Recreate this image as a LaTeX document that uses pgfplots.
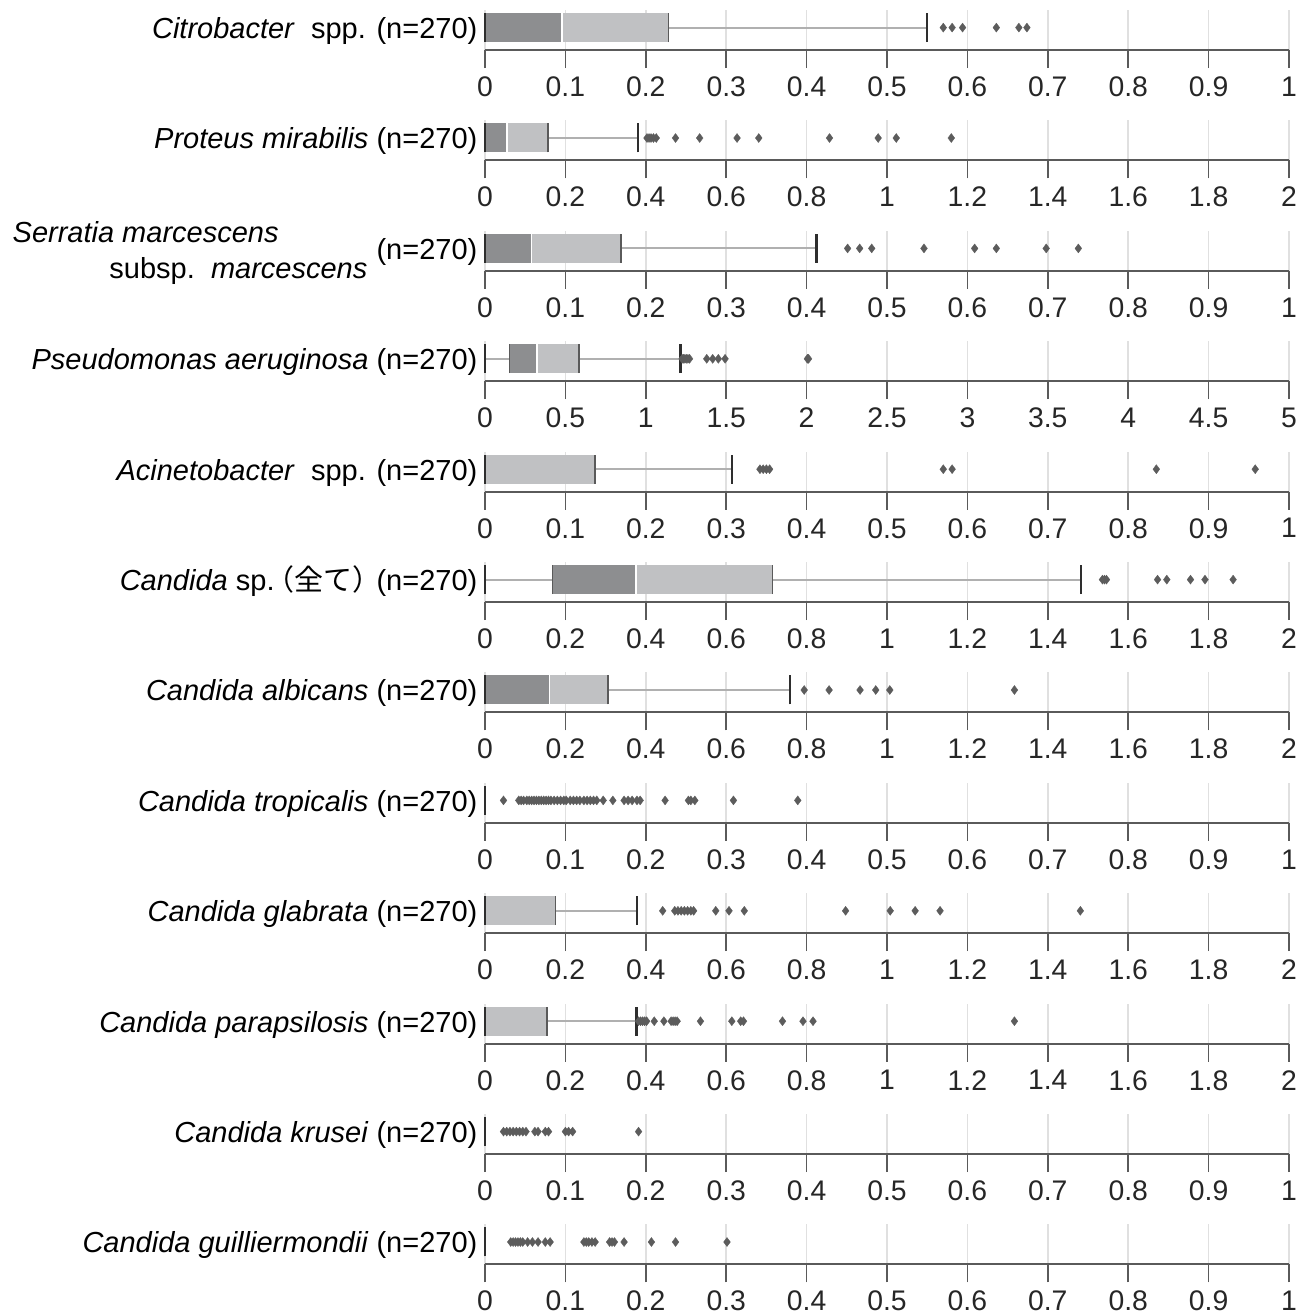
\documentclass[border=0pt]{standalone}
\usepackage{fontspec}
\setmainfont{Liberation Sans}
\newfontfamily\cjk{Noto Sans CJK JP}
\usepackage{pgfplots}
\pgfplotsset{compat=1.18}
\definecolor{bdark}{HTML}{8D8E90}
\definecolor{blight}{HTML}{C0C1C3}
\definecolor{axgray}{HTML}{5A5A5A}
\definecolor{gridc}{HTML}{E0E0E0}
\definecolor{whisk}{HTML}{B0B0B0}
\definecolor{capc}{HTML}{2E2E2E}
\definecolor{outc}{HTML}{5C5C5C}
\newcommand\lab{\fontsize{8.7pt}{10.4pt}\selectfont}
\newcommand\tlab{\fontsize{8.5pt}{10pt}\selectfont}
\newcommand\whisker[2]{\addplot[draw=whisk, line width=0.55pt] coordinates {(#1,0.56) (#2,0.56)};}
\newcommand\bpart[3]{\addplot[fill=#1, draw=none] coordinates {(#2,0.2) (#3,0.2) (#3,0.925) (#2,0.925)};}
\newcommand\bedge[2]{\addplot[draw=#2, line width=0.45pt] coordinates {(#1,0.2) (#1,0.925)};}
\newcommand\bcap[1]{\addplot[draw=capc, line width=0.75pt] coordinates {(#1,0.2) (#1,0.925)};}
\tikzset{lbl/.style={font=\lab, inner sep=0pt}}
\pgfplotsset{
  panel/.style={
    scale only axis, width=241.2pt, height=12pt,
    xmin=0, ymin=0, ymax=1, clip=false,
    anchor=south west,
    axis x line*=bottom, axis y line=none,
    axis line style={draw=axgray, line width=0.6pt},
    tick align=outside, major tick length=5.4pt,
    x tick style={draw=axgray, line width=0.5pt},
    xmajorgrids, major grid style={draw=gridc, line width=0.45pt},
    xticklabel style={font=\tlab, text=black!85, yshift=0.9pt},
    /pgf/number format/assume math mode=true,
    ytick=\empty,
  },
  pa/.style={xmax=1, xtick={0,0.1,0.2,0.3,0.4,0.5,0.6,0.7,0.8,0.9,1}},
  pb/.style={xmax=2, xtick={0,0.2,0.4,0.6,0.8,1,1.2,1.4,1.6,1.8,2}},
  pc/.style={xmax=5, xtick={0,0.5,1,1.5,2,2.5,3,3.5,4,4.5,5}},
  outl/.style={only marks, mark=diamond*, mark size=1.35pt, mark options={fill=outc, draw=outc, line width=0.1pt}},
}
\begin{document}
\begin{tikzpicture}
\useasboundingbox (0pt,0pt) rectangle (390pt,-394.2pt);
% 1 Citrobacter
\begin{axis}[panel, pa, at={(145.5pt,-15pt)}]
\whisker{0.228}{0.550}
\bpart{bdark}{0}{0.0956}
\bpart{blight}{0.0956}{0.228}
\bedge{0.0956}{white}\bedge{0.228}{axgray}
\bcap{0}\bcap{0.550}
\addplot[outl] coordinates {(0.570,0.56) (0.581,0.56) (0.594,0.56) (0.636,0.56) (0.664,0.56) (0.674,0.56)};
\end{axis}
\node[anchor=base east, lbl] at (143.4pt,-11.55pt) {\textit{Citrobacter}\ \ spp. (n=270)};
% 2 Proteus
\begin{axis}[panel, pb, at={(145.5pt,-48.12pt)}]
\whisker{0.157}{0.380}
\bpart{bdark}{0}{0.055}
\bpart{blight}{0.055}{0.157}
\bedge{0.055}{white}\bedge{0.157}{axgray}
\bcap{0}\bcap{0.380}
\addplot[outl] coordinates {(0.403,0.56) (0.408,0.56) (0.413,0.56) (0.419,0.56) (0.426,0.56) (0.474,0.56) (0.534,0.56) (0.627,0.56) (0.681,0.56) (0.857,0.56) (0.978,0.56) (1.023,0.56) (1.160,0.56)};
\end{axis}
\node[anchor=base east, lbl] at (143.4pt,-44.67pt) {\textit{Proteus mirabilis} (n=270)};
% 3 Serratia
\begin{axis}[panel, pa, at={(145.5pt,-81.24pt)}]
\whisker{0.169}{0.412}
\bpart{bdark}{0}{0.0576}
\bpart{blight}{0.0576}{0.169}
\bedge{0.0576}{white}\bedge{0.169}{axgray}
\bcap{0}\bcap{0.412}
\addplot[outl] coordinates {(0.451,0.56) (0.466,0.56) (0.481,0.56) (0.546,0.56) (0.609,0.56) (0.636,0.56) (0.698,0.56) (0.738,0.56)};
\end{axis}
\node[anchor=base west, lbl] at (3.6pt,-72.6pt) {\textit{Serratia marcescens}};
\node[anchor=base east, lbl] at (110.4pt,-83.4pt) {subsp.\ \ \textit{marcescens}};
\node[anchor=base east, lbl] at (143.4pt,-77.79pt) {(n=270)};
% 4 Pseudomonas
\begin{axis}[panel, pc, at={(145.5pt,-114.36pt)}]
\whisker{0}{0.153}
\whisker{0.584}{1.217}
\bpart{bdark}{0.153}{0.323}
\bpart{blight}{0.323}{0.584}
\bedge{0.153}{axgray}\bedge{0.323}{white}\bedge{0.584}{axgray}
\bcap{0}\bcap{1.217}
\addplot[outl] coordinates {(1.226,0.56) (1.234,0.56) (1.243,0.56) (1.252,0.56) (1.262,0.56) (1.272,0.56) (1.379,0.56) (1.416,0.56) (1.451,0.56) (1.493,0.56) (2.005,0.56) (2.012,0.56)};
\end{axis}
\node[anchor=base east, lbl] at (143.4pt,-110.91pt) {\textit{Pseudomonas aeruginosa} (n=270)};
% 5 Acinetobacter
\begin{axis}[panel, pa, at={(145.5pt,-147.48pt)}]
\whisker{0.137}{0.307}
\bpart{blight}{0}{0.137}
\bedge{0.137}{axgray}
\bcap{0}\bcap{0.307}
\addplot[outl] coordinates {(0.342,0.56) (0.346,0.56) (0.350,0.56) (0.354,0.56) (0.570,0.56) (0.581,0.56) (0.835,0.56) (0.958,0.56)};
\end{axis}
\node[anchor=base east, lbl] at (143.4pt,-144.03pt) {\textit{Acinetobacter}\ \ spp. (n=270)};
% 6 Candida sp.
\begin{axis}[panel, pb, at={(145.5pt,-180.6pt)}]
\whisker{0}{0.168}
\whisker{0.715}{1.483}
\bpart{bdark}{0.168}{0.375}
\bpart{blight}{0.375}{0.715}
\bedge{0.168}{axgray}\bedge{0.375}{white}\bedge{0.715}{axgray}
\bcap{0}\bcap{1.483}
\addplot[outl] coordinates {(1.536,0.56) (1.541,0.56) (1.546,0.56) (1.673,0.56) (1.696,0.56) (1.755,0.56) (1.791,0.56) (1.861,0.56)};
\end{axis}
\node[anchor=base east, lbl] at (143.4pt,-177.15pt) {\textit{Candida} sp.\kern-2.6pt{\cjk （全て）}\kern-1.6pt(n=270)};
% 7 Candida albicans
\begin{axis}[panel, pb, at={(145.5pt,-213.72pt)}]
\whisker{0.306}{0.759}
\bpart{bdark}{0}{0.160}
\bpart{blight}{0.160}{0.306}
\bedge{0.160}{white}\bedge{0.306}{axgray}
\bcap{0}\bcap{0.759}
\addplot[outl] coordinates {(0.794,0.56) (0.856,0.56) (0.933,0.56) (0.972,0.56) (1.007,0.56) (1.317,0.56)};
\end{axis}
\node[anchor=base east, lbl] at (143.4pt,-210.27pt) {\textit{Candida albicans} (n=270)};
% 8 Candida tropicalis
\begin{axis}[panel, pa, at={(145.5pt,-246.84pt)}]
\bcap{0}
\addplot[outl] coordinates {(0.023,0.56) (0.042,0.56) (0.045,0.56) (0.048,0.56) (0.052,0.56) (0.055,0.56) (0.058,0.56) (0.061,0.56) (0.064,0.56) (0.067,0.56) (0.070,0.56) (0.073,0.56) (0.076,0.56) (0.079,0.56) (0.082,0.56) (0.086,0.56) (0.090,0.56) (0.094,0.56) (0.098,0.56) (0.101,0.56) (0.106,0.56) (0.110,0.56) (0.114,0.56) (0.118,0.56) (0.123,0.56) (0.127,0.56) (0.131,0.56) (0.135,0.56) (0.139,0.56) (0.147,0.56) (0.159,0.56) (0.173,0.56) (0.178,0.56) (0.183,0.56) (0.189,0.56) (0.193,0.56) (0.224,0.56) (0.253,0.56) (0.256,0.56) (0.261,0.56) (0.309,0.56) (0.389,0.56)};
\end{axis}
\node[anchor=base east, lbl] at (143.4pt,-243.39pt) {\textit{Candida tropicalis} (n=270)};
% 9 Candida glabrata
\begin{axis}[panel, pb, at={(145.5pt,-279.96pt)}]
\whisker{0.175}{0.378}
\bpart{blight}{0}{0.175}
\bedge{0.175}{axgray}
\bcap{0}\bcap{0.378}
\addplot[outl] coordinates {(0.442,0.56) (0.472,0.56) (0.480,0.56) (0.488,0.56) (0.496,0.56) (0.504,0.56) (0.512,0.56) (0.519,0.56) (0.574,0.56) (0.607,0.56) (0.645,0.56) (0.897,0.56) (1.008,0.56) (1.070,0.56) (1.132,0.56) (1.481,0.56)};
\end{axis}
\node[anchor=base east, lbl] at (143.4pt,-276.51pt) {\textit{Candida glabrata} (n=270)};
% 10 Candida parapsilosis
\begin{axis}[panel, pb, at={(145.5pt,-313.08pt)}]
\whisker{0.154}{0.377}
\bpart{blight}{0}{0.154}
\bedge{0.154}{axgray}
\bcap{0}\bcap{0.377}
\addplot[outl] coordinates {(0.382,0.56) (0.387,0.56) (0.392,0.56) (0.397,0.56) (0.402,0.56) (0.421,0.56) (0.445,0.56) (0.463,0.56) (0.468,0.56) (0.473,0.56) (0.478,0.56) (0.536,0.56) (0.614,0.56) (0.636,0.56) (0.643,0.56) (0.740,0.56) (0.791,0.56) (0.816,0.56) (1.317,0.56)};
\end{axis}
\node[anchor=base east, lbl] at (143.4pt,-309.63pt) {\textit{Candida parapsilosis} (n=270)};
% 11 Candida krusei
\begin{axis}[panel, pa, at={(145.5pt,-346.2pt)}]
\bcap{0}
\addplot[outl] coordinates {(0.023,0.56) (0.027,0.56) (0.031,0.56) (0.035,0.56) (0.039,0.56) (0.043,0.56) (0.047,0.56) (0.051,0.56) (0.062,0.56) (0.066,0.56) (0.075,0.56) (0.079,0.56) (0.100,0.56) (0.104,0.56) (0.109,0.56) (0.191,0.56)};
\end{axis}
\node[anchor=base east, lbl] at (143.4pt,-342.75pt) {\textit{Candida krusei} (n=270)};
% 12 Candida guilliermondii
\begin{axis}[panel, pa, at={(145.5pt,-379.32pt)}]
\bcap{0}
\addplot[outl] coordinates {(0.032,0.56) (0.035,0.56) (0.038,0.56) (0.041,0.56) (0.044,0.56) (0.047,0.56) (0.053,0.56) (0.059,0.56) (0.066,0.56) (0.075,0.56) (0.081,0.56) (0.123,0.56) (0.126,0.56) (0.129,0.56) (0.133,0.56) (0.137,0.56) (0.155,0.56) (0.158,0.56) (0.161,0.56) (0.173,0.56) (0.207,0.56) (0.237,0.56) (0.301,0.56)};
\end{axis}
\node[anchor=base east, lbl] at (143.4pt,-375.87pt) {\textit{Candida guilliermondii} (n=270)};
\end{tikzpicture}
\end{document}
